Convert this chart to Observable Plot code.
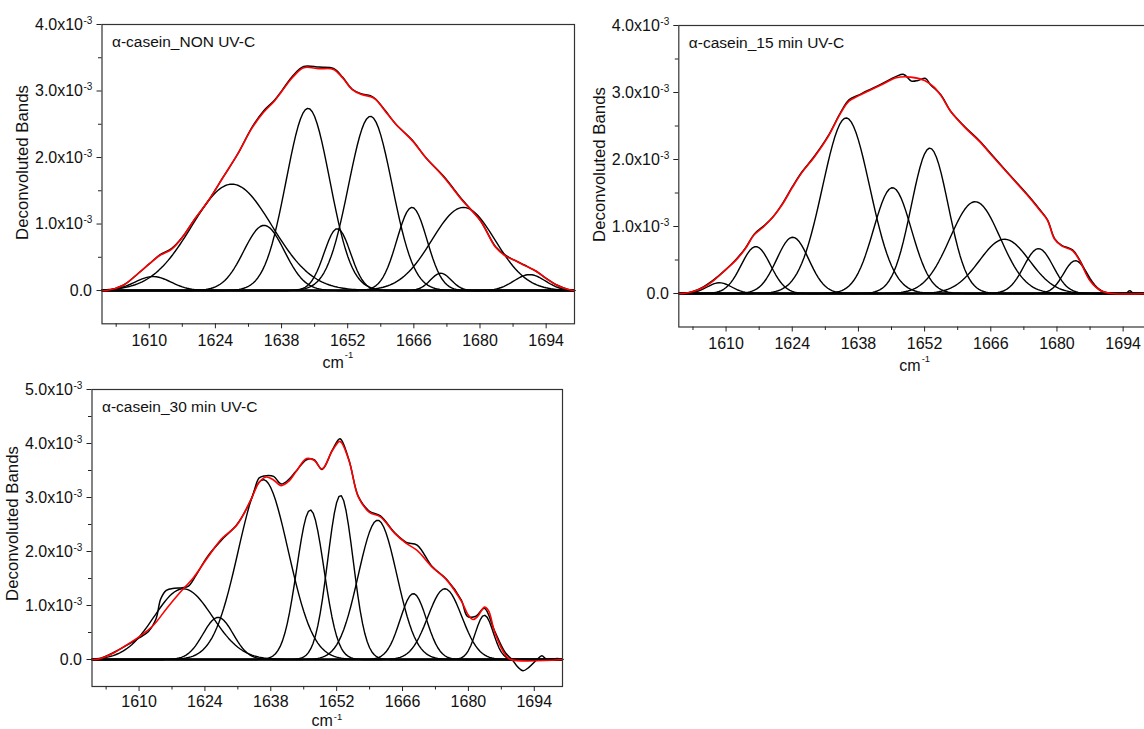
<!DOCTYPE html>
<html>
<head>
<meta charset="utf-8">
<script src="https://cdn.jsdelivr.net/npm/d3@7"></script>
<script src="https://cdn.jsdelivr.net/npm/@observablehq/plot@0.6"></script>
<style>
  html, body { margin: 0; padding: 0; background: #fff; overflow: hidden; width: 1144px; height: 729px; }
  #root { position: relative; width: 1144px; height: 729px; overflow: hidden; }
  .panel { position: absolute; }
</style>
</head>
<body>
<div id="root"></div>
<script>
// ---------- shared axis data ----------
const xDomain = [1600, 1700];
const xMajorTicks = [1610, 1624, 1638, 1652, 1666, 1680, 1694];
const xMinorTicks = [1603, 1617, 1631, 1645, 1659, 1673, 1687];
const yMajorTicks4 = [0, 1, 2, 3, 4];
const yMinorTicks4 = [0.5, 1.5, 2.5, 3.5];
const yMajorTicks5 = [0, 1, 2, 3, 4, 5];
const yMinorTicks5 = [0.5, 1.5, 2.5, 3.5, 4.5];
const yTickExponent = "-3";          // values are in units of 10^-3
const xAxisUnit = "cm";
const xAxisUnitExp = "-1";
const yAxisTitle = "Deconvoluted Bands";
const panelTitles = ["α-casein_NON UV-C", "α-casein_15 min UV-C", "α-casein_30 min UV-C"];

// ---------- panel 1: NON UV-C ----------
const nonBandCenters = [1610.8, 1627.5, 1634.3, 1643.6, 1649.8, 1656.8, 1665.6, 1671.7, 1676.5, 1690.5];
const nonBandHeights = [0.21, 1.60, 0.98, 2.74, 0.93, 2.62, 1.25, 0.26, 1.25, 0.24];
const nonBandSigmas  = [3.8, 8.5, 4.3, 4.6, 2.8, 4.6, 3.2, 2.2, 6.7, 3.3];
const nonFitX = [1600, 1601, 1604.5, 1607.7, 1610, 1612.3, 1614.7, 1617, 1619.4, 1622.5, 1625.6, 1628.7, 1631.8, 1634.2, 1636.5, 1638.1, 1640.4, 1642.7, 1645.9, 1649, 1650.9, 1652.9, 1654.8, 1656.8, 1657.9, 1659.9, 1662.2, 1665.7, 1668.5, 1672.4, 1676.3, 1680.1, 1683.3, 1685.6, 1687.2, 1689.5, 1691.9, 1694.1, 1696.4, 1698.5, 1700];
const nonFitY = [0, 0, 0.08, 0.26, 0.40, 0.53, 0.62, 0.80, 1.05, 1.35, 1.70, 2.05, 2.45, 2.68, 2.85, 3.00, 3.21, 3.35, 3.335, 3.325, 3.20, 3.025, 2.95, 2.915, 2.875, 2.70, 2.50, 2.25, 2.00, 1.70, 1.35, 1.05, 0.65, 0.51, 0.46, 0.375, 0.29, 0.175, 0.075, 0.02, 0];
const nonMeasX = [1600, 1601, 1604.5, 1607.7, 1610, 1612.3, 1614.7, 1617, 1619.4, 1622.5, 1625.6, 1628.7, 1631.8, 1634.2, 1636.5, 1638.1, 1640.4, 1642.7, 1645.9, 1649, 1650.9, 1652.9, 1654.8, 1656.8, 1657.9, 1659.9, 1662.2, 1665.7, 1668.5, 1672.4, 1676.3, 1680.1, 1683.3, 1685.6, 1687.2, 1689.5, 1691.9, 1694.1, 1696.4, 1698.5, 1700];
const nonMeasY = [0, 0, 0.08, 0.26, 0.40, 0.54, 0.63, 0.80, 1.05, 1.35, 1.70, 2.05, 2.46, 2.70, 2.86, 3.01, 3.23, 3.37, 3.36, 3.34, 3.21, 3.03, 2.96, 2.93, 2.88, 2.71, 2.50, 2.26, 2.00, 1.71, 1.36, 1.05, 0.66, 0.52, 0.46, 0.38, 0.29, 0.18, 0.08, 0.02, 0];

// ---------- panel 2: 15 min UV-C ----------
const m15BandCenters = [1608.6, 1616.3, 1624.1, 1635.4, 1645.2, 1653.1, 1662.7, 1668.9, 1676.1, 1683.9];
const m15BandHeights = [0.16, 0.70, 0.84, 2.62, 1.58, 2.17, 1.37, 0.81, 0.67, 0.49];
const m15BandSigmas  = [2.6, 3.1, 3.4, 5.0, 4.0, 3.9, 5.3, 5.3, 3.1, 2.5];
const m15FitX = [1600, 1601, 1603, 1605.2, 1607.3, 1610, 1612, 1614, 1616, 1618, 1620, 1622, 1624, 1626, 1628.6, 1631.5, 1634.3, 1636, 1638, 1640, 1643, 1646, 1649, 1652, 1654, 1655.5, 1657.5, 1660.5, 1663.6, 1666.6, 1670.4, 1674.2, 1676.4, 1678, 1679.5, 1681, 1683.3, 1684.8, 1687, 1689.3, 1691.6, 1700];
const m15FitY = [0, 0, 0.03, 0.09, 0.19, 0.36, 0.49, 0.66, 0.88, 1.00, 1.15, 1.34, 1.58, 1.80, 2.03, 2.33, 2.70, 2.87, 2.95, 3.02, 3.12, 3.22, 3.23, 3.18, 3.08, 2.95, 2.72, 2.48, 2.27, 2.03, 1.73, 1.43, 1.24, 1.09, 0.81, 0.71, 0.64, 0.49, 0.19, 0.04, 0, 0];
const m15MeasX = [1600, 1601, 1603, 1605.2, 1607.3, 1610, 1612, 1614, 1616, 1618, 1620, 1622, 1624, 1626, 1628.6, 1631.5, 1634.3, 1636, 1638, 1640, 1643, 1646, 1647.6, 1649.2, 1650.6, 1652.2, 1653.2, 1655.5, 1657.5, 1660.5, 1663.6, 1666.6, 1670.4, 1674.2, 1676.4, 1678, 1679.5, 1681, 1683.3, 1684.8, 1687, 1689.3, 1691.6, 1694.5, 1695.4, 1696.3, 1700];
const m15MeasY = [0, 0, 0.03, 0.10, 0.20, 0.36, 0.50, 0.67, 0.89, 1.01, 1.15, 1.35, 1.59, 1.81, 2.04, 2.34, 2.71, 2.89, 2.96, 3.03, 3.13, 3.24, 3.27, 3.17, 3.18, 3.21, 3.12, 2.96, 2.72, 2.49, 2.28, 2.04, 1.74, 1.44, 1.25, 1.10, 0.82, 0.72, 0.65, 0.50, 0.20, 0.04, 0, 0, 0.04, 0, 0];

// ---------- panel 3: 30 min UV-C ----------
const m30BandCenters = [1619.4, 1626.8, 1636.4, 1646.4, 1652.8, 1660.7, 1668.3, 1675.0, 1683.4];
const m30BandHeights = [1.31, 0.78, 3.33, 2.77, 3.04, 2.58, 1.22, 1.31, 0.82];
const m30BandSigmas  = [6.2, 3.2, 5.3, 2.9, 2.7, 4.1, 2.8, 3.6, 1.9];
const m30FitX = [1600, 1601.4, 1604.6, 1607.9, 1610, 1613, 1616, 1618.7, 1621.6, 1624.5, 1627.6, 1630.8, 1633.9, 1635.5, 1637, 1638.5, 1640.2, 1641.8, 1643.3, 1645.6, 1647.2, 1648.9, 1651.1, 1652.7, 1654.6, 1656.6, 1658.9, 1661.3, 1664.4, 1666.8, 1669.1, 1672.3, 1675.4, 1678.5, 1680, 1681, 1682, 1683.4, 1684.3, 1685.6, 1687.9, 1689, 1700];
const m30FitY = [0, 0.01, 0.12, 0.30, 0.42, 0.63, 0.96, 1.24, 1.52, 1.88, 2.24, 2.49, 2.98, 3.28, 3.38, 3.33, 3.22, 3.30, 3.47, 3.72, 3.69, 3.53, 3.87, 4.04, 3.69, 3.01, 2.73, 2.64, 2.33, 2.15, 2.02, 1.71, 1.47, 1.08, 0.82, 0.74, 0.80, 0.97, 0.90, 0.50, 0.08, 0, 0];
const m30MeasX = [1600, 1601.4, 1604.6, 1607.9, 1610, 1612, 1613.6, 1614.6, 1615.8, 1617.5, 1619.2, 1620.5, 1622.1, 1624.5, 1627.6, 1630.8, 1633.9, 1635.5, 1636.6, 1638.6, 1640.2, 1641.8, 1643.3, 1645.6, 1647.2, 1648.9, 1651.1, 1652.7, 1654.6, 1656.6, 1658.9, 1661.3, 1664.4, 1666.8, 1669.1, 1672.3, 1675.4, 1678.5, 1679.8, 1681.6, 1683.4, 1685.6, 1687.9, 1689.3, 1690.5, 1691.6, 1692.8, 1694.6, 1695.6, 1696.7, 1698.8, 1700];
const m30MeasY = [0, 0.01, 0.13, 0.29, 0.40, 0.52, 0.75, 1.12, 1.28, 1.32, 1.33, 1.36, 1.56, 1.90, 2.22, 2.50, 2.98, 3.36, 3.40, 3.39, 3.25, 3.33, 3.48, 3.70, 3.70, 3.52, 3.88, 4.09, 3.70, 3.02, 2.75, 2.66, 2.34, 2.17, 2.12, 1.72, 1.48, 1.10, 0.80, 0.80, 0.95, 0.52, 0.12, 0, -0.14, -0.21, -0.15, 0, 0.07, 0, 0.02, 0.01];

// ---------- helpers ----------
const FONT = "'Liberation Sans', Arial, sans-serif";

function bandRows(centers, heights, sigmas) {
  const rows = [];
  centers.forEach((c, i) => {
    for (let x = xDomain[0]; x <= xDomain[1] + 1e-9; x += 0.5) {
      rows.push({band: i, x, y: heights[i] * Math.exp(-((x - c) ** 2) / (2 * sigmas[i] ** 2))});
    }
  });
  return rows;
}
const zipXY = (xs, ys) => xs.map((x, i) => ({x, y: ys[i]}));

function makePanel(cfg) {
  const width = cfg.mL + cfg.pW + cfg.mR;
  const height = cfg.mT + cfg.pH + cfg.mB;
  const nonzero = cfg.yMajor.filter(d => d !== 0);
  const supW = 9;
  const plot = Plot.plot({
    width, height,
    marginLeft: cfg.mL, marginRight: cfg.mR, marginTop: cfg.mT, marginBottom: cfg.mB,
    x: {domain: xDomain},
    y: {domain: [-0.5, cfg.yMax]},
    style: {background: "transparent", fontFamily: FONT, color: "#000", overflow: "visible"},
    marks: [
      Plot.ruleY([0], {stroke: "#000", strokeWidth: 1.4}),
      Plot.line(bandRows(cfg.centers, cfg.heights, cfg.sigmas), {x: "x", y: "y", z: "band", stroke: "#000", strokeWidth: 1.4}),
      Plot.line(zipXY(cfg.measX, cfg.measY), {x: "x", y: "y", stroke: "#000", strokeWidth: 1.5, curve: "catmull-rom"}),
      Plot.line(zipXY(cfg.fitX, cfg.fitY), {x: "x", y: "y", stroke: "#f00", strokeWidth: 1.6, curve: "catmull-rom"}),
      Plot.frame({stroke: "#333", strokeWidth: 1.2}),
      Plot.axisX({ticks: xMajorTicks, tickSize: 5, tickFormat: () => "", label: null, stroke: "#222"}),
      Plot.axisX({ticks: xMinorTicks, tickSize: 3.5, tickFormat: () => "", label: null, stroke: "#222"}),
      Plot.axisY({ticks: cfg.yMajor, tickSize: 5, tickFormat: () => "", label: null, stroke: "#222"}),
      Plot.axisY({ticks: cfg.yMinor, tickSize: 3.5, tickFormat: () => "", label: null, stroke: "#222"}),
      // x tick labels
      Plot.text(xMajorTicks, {x: d => d, frameAnchor: "bottom", dy: cfg.tickDy, text: d => String(d), fontSize: 16, fill: "#111", lineAnchor: "middle"}),
      // y tick labels
      Plot.text([0], {y: d => d, frameAnchor: "left", dx: -10, text: () => "0.0", textAnchor: "end", fontSize: 16, fill: "#111", lineAnchor: "middle"}),
      Plot.text(nonzero, {y: d => d, frameAnchor: "left", dx: -10 - supW, text: d => d.toFixed(1) + "x10", textAnchor: "end", fontSize: 16, fill: "#111", lineAnchor: "middle"}),
      Plot.text(nonzero, {y: d => d, frameAnchor: "left", dx: -10 - supW + 0.5, dy: -4, text: () => yTickExponent, textAnchor: "start", fontSize: 10, fill: "#111", lineAnchor: "middle"}),
      // x axis title
      Plot.text([xAxisUnit], {frameAnchor: "bottom", dx: 5.5, dy: cfg.unitDy, text: d => d, textAnchor: "end", fontSize: 16, fill: "#111", lineAnchor: "middle"}),
      Plot.text([xAxisUnitExp], {frameAnchor: "bottom", dx: 6.5, dy: cfg.supDy, text: d => d, textAnchor: "start", fontSize: 9.5, fill: "#111", lineAnchor: "middle"}),
      // y axis title
      Plot.text([yAxisTitle], {frameAnchor: "top-left", dx: -79.5, dy: cfg.yTitleDy, rotate: -90, text: d => d, textAnchor: "middle", fontSize: 16.8, fill: "#111", lineAnchor: "middle"}),
      // panel title
      Plot.text([cfg.title], {frameAnchor: "top-left", dx: 10, dy: 17.5, text: d => d, textAnchor: "start", fontSize: 15.5, fill: "#111", lineAnchor: "middle"})
    ]
  });
  plot.classList.add("panel");
  plot.style.left = cfg.left + "px";
  plot.style.top = cfg.top + "px";
  return plot;
}

const root = document.getElementById("root");
root.appendChild(makePanel({
  title: panelTitles[0], left: 0, top: 0,
  mL: 101.5, pW: 472.5, mR: 6, mT: 24, pH: 299.3, mB: 46, yMax: 4, yTitleDy: 138, tickDy: 17, unitDy: 39, supDy: 31.5,
  yMajor: yMajorTicks4, yMinor: yMinorTicks4,
  centers: nonBandCenters, heights: nonBandHeights, sigmas: nonBandSigmas,
  fitX: nonFitX, fitY: nonFitY, measX: nonMeasX, measY: nonMeasY
}));
root.appendChild(makePanel({
  title: panelTitles[1], left: 580, top: 0,
  mL: 98.3, pW: 472.7, mR: 10, mT: 25, pH: 301.5, mB: 45, yMax: 4, yTitleDy: 139, tickDy: 17, unitDy: 38.5, supDy: 31.5,
  yMajor: yMajorTicks4, yMinor: yMinorTicks4,
  centers: m15BandCenters, heights: m15BandHeights, sigmas: m15BandSigmas,
  fitX: m15FitX, fitY: m15FitY, measX: m15MeasX, measY: m15MeasY
}));
root.appendChild(makePanel({
  title: panelTitles[2], left: 0, top: 370,
  mL: 91.5, pW: 470.5, mR: 8, mT: 19, pH: 297, mB: 43, yMax: 5, yTitleDy: 134, tickDy: 15, unitDy: 34, supDy: 30,
  yMajor: yMajorTicks5, yMinor: yMinorTicks5,
  centers: m30BandCenters, heights: m30BandHeights, sigmas: m30BandSigmas,
  fitX: m30FitX, fitY: m30FitY, measX: m30MeasX, measY: m30MeasY
}));
</script>
</body>
</html>
